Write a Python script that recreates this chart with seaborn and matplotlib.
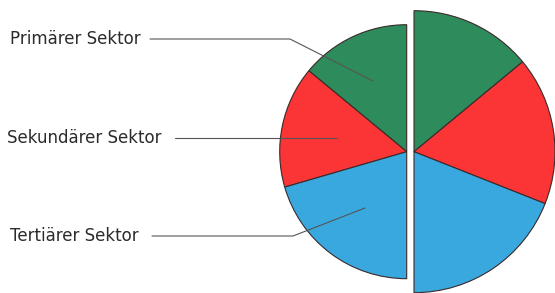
import matplotlib
matplotlib.use("Agg")
import matplotlib.pyplot as plt
import seaborn as sns

# Sector names and the two half-pie shares (percent)
sectors = ["Primärer Sektor", "Sekundärer Sektor", "Tertiärer Sektor"]
left_shares = [28, 31, 41]
right_shares = [28, 34, 38]
sector_colors = ["#2e8b5b", "#fb3436", "#39a8df"]

sns.set_theme(style="white")
plt.rcParams["font.family"] = ["DejaVu Sans"]

fig = plt.figure(figsize=(5.55, 2.93), dpi=100)
ax = fig.add_axes([0, 0, 1, 1])

H = 293
edge = dict(edgecolor="#3a2a2a", linewidth=0.8)

# left half: counter-clockwise from the top, smaller radius
wl, _ = ax.pie(left_shares + [sum(left_shares)], startangle=90, counterclock=True,
               radius=127, center=(406.7, H - 151.7),
               colors=sector_colors + ["none"], wedgeprops=edge)
wl[-1].set_visible(False)

# right half: clockwise from the top, larger radius
wr, _ = ax.pie(right_shares + [sum(right_shares)], startangle=90, counterclock=False,
               radius=141, center=(414, H - 151.7),
               colors=sector_colors + ["none"], wedgeprops=edge)
wr[-1].set_visible(False)

# labels with leader lines into the left half
label_pos = [(10, 39), (7, 137.7), (10, 236)]
leaders = [
    [(150, 39), (290, 39), (373, 81)],
    [(175, 137.7), (337, 137.7)],
    [(152, 236), (293, 236), (365, 208)],
]
for name, (tx, ty), pts in zip(sectors, label_pos, leaders):
    ax.text(tx, H - ty, name, fontsize=12, color="#2b2b2b", va="center", ha="left")
    xs = [p[0] for p in pts]
    ys = [H - p[1] for p in pts]
    ax.plot(xs, ys, color="#555555", linewidth=0.8, zorder=5)

ax.set_xlim(0, 555)
ax.set_ylim(0, H)
ax.set_aspect("equal")
ax.axis("off")

fig.savefig("out.png", dpi=100, facecolor="white")
